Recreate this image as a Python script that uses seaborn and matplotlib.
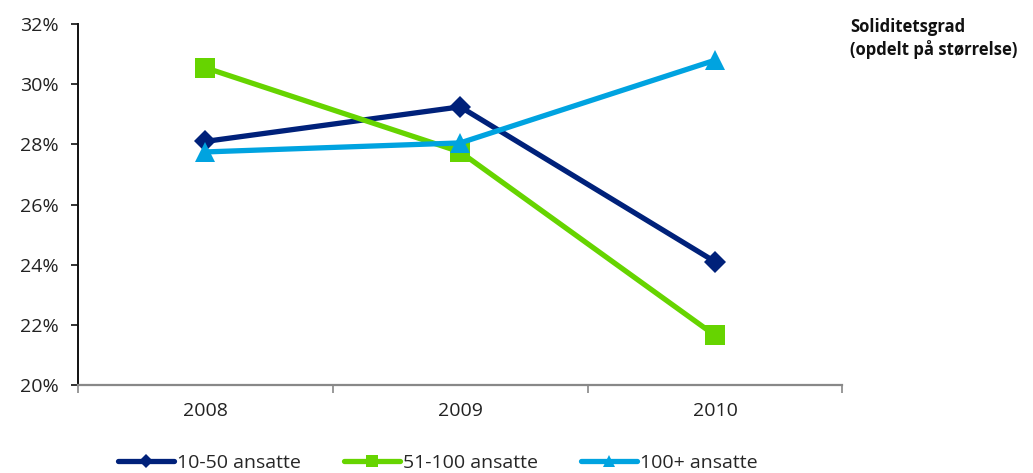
import matplotlib
matplotlib.use("Agg")
import matplotlib.pyplot as plt
import seaborn as sns
import pandas as pd
import numpy as np
from matplotlib.ticker import FuncFormatter, FixedLocator

years = ["2008", "2009", "2010"]
s_small = [28.1, 29.25, 24.1]
s_mid = [30.55, 27.75, 21.65]
s_large = [27.75, 28.05, 30.8]
series_names = ["10-50 ansatte", "51-100 ansatte", "100+ ansatte"]
colors = ["#00217a", "#66d400", "#00a3e0"]
markers = ["D", "s", "^"]
msizes = [11.5, 14, 15]

sns.set_theme(style="white")
plt.rcParams['font.family'] = ['Open Sans', 'DejaVu Sans']

rows = []
for name, vals in zip(series_names, [s_small, s_mid, s_large]):
    for i, (y, v) in enumerate(zip(years, vals)):
        rows.append({"pos": i, "year": y, "value": v, "series": name})
df = pd.DataFrame(rows)

fig = plt.figure(figsize=(10.33, 4.73), dpi=100)
ax = fig.add_axes([0.0755, 0.186, 0.740, 0.763])

handles = []
for name, col, mk, ms in zip(series_names, colors, markers, msizes):
    sub = df[df.series == name]
    sns.lineplot(data=sub, x="pos", y="value", ax=ax, color=col, linewidth=3.8,
                 marker=mk, markersize=ms, markeredgewidth=0, legend=False)
    h, = ax.plot([], [], color=col, linewidth=3.8, marker=mk, markersize=ms * 0.6,
                 markeredgewidth=0)
    handles.append(h)

ax.set_xlim(-0.5, 2.5)
ax.set_ylim(20, 32)
ax.set_yticks(np.arange(20, 33, 2))
ax.yaxis.set_major_formatter(FuncFormatter(lambda v, p: f"{v:.0f}%"))
ax.set_xticks([0, 1, 2])
ax.set_xticklabels(years)
ax.xaxis.set_minor_locator(FixedLocator([-0.5, 0.5, 1.5, 2.5]))
ax.tick_params(axis="x", which="major", length=0, pad=12, labelsize=14, colors="#222222")
ax.tick_params(axis="x", which="minor", length=6, width=1.2, color="#888888", direction="out", bottom=True)
ax.tick_params(axis="y", length=5, width=1.2, color="#111111", direction="out", left=True,
               labelsize=14, colors="#222222", pad=9)
ax.set_xlabel("")
ax.set_ylabel("")
for s in ["top", "right"]:
    ax.spines[s].set_visible(False)
ax.spines["left"].set_color("#111111")
ax.spines["left"].set_linewidth(1.4)
ax.spines["bottom"].set_color("#888888")
ax.spines["bottom"].set_linewidth(1.6)

fig.text(0.823, 0.962, "Soliditetsgrad\n(opdelt på størrelse)", fontsize=12,
         fontweight="bold", ha="left", va="top", linespacing=1.3, color="#111111")

fig.legend(handles, series_names, loc="lower center", bbox_to_anchor=(0.424, -0.035),
           ncol=3, frameon=False, fontsize=14, handlelength=2.9, handletextpad=0.15,
           columnspacing=2.2)

fig.savefig("out.png", dpi=100)
